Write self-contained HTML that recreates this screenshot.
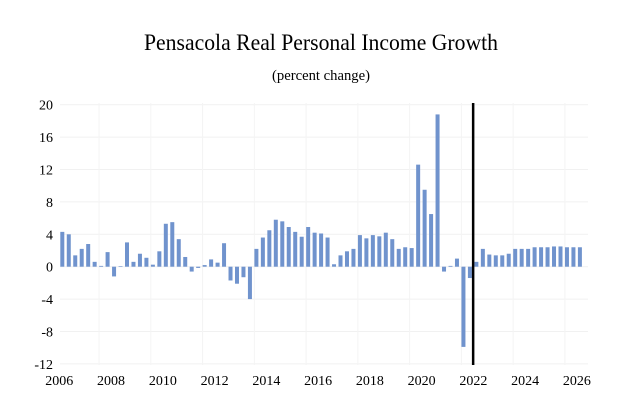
<!DOCTYPE html>
<html><head><meta charset="utf-8"><style>
body{margin:0;background:#fff;}
svg{display:block;font-family:"Liberation Serif",serif;}
</style></head><body>
<svg id="chart" width="627" height="415" viewBox="0 0 627 415">
<text x="321" y="50" font-size="23" text-anchor="middle" textLength="354" lengthAdjust="spacingAndGlyphs">Pensacola Real Personal Income Growth</text>
<text x="321" y="80" font-size="15" text-anchor="middle" textLength="98" lengthAdjust="spacingAndGlyphs">(percent change)</text>
<g id="grid"></g><g id="bars"></g><g id="axes"></g>
</svg>
<script>
const values=[4.3,4.0,1.4,2.2,2.8,0.6,0.1,1.8,-1.2,0.05,3.0,0.6,1.6,1.1,0.25,1.9,5.3,5.5,3.4,1.2,-0.6,-0.15,0.2,0.9,0.5,2.9,-1.7,-2.1,-1.3,-4.0,2.2,3.6,4.5,5.8,5.6,4.9,4.3,3.7,4.9,4.2,4.1,3.6,0.3,1.4,1.9,2.2,3.9,3.5,3.9,3.75,4.2,3.4,2.2,2.4,2.3,12.6,9.5,6.5,18.8,-0.6,0.1,1.0,-9.9,-1.4,0.6,2.2,1.5,1.4,1.4,1.6,2.2,2.2,2.2,2.4,2.4,2.4,2.5,2.5,2.4,2.4,2.4];
const startYear=2006;
const yTicks=[20,16,12,8,4,0,-4,-8,-12];
const xTicks=[2006,2008,2010,2012,2014,2016,2018,2020,2022,2024,2026];
const forecastStart=2021.875;
const NS="http://www.w3.org/2000/svg";
const y=v=>266.7-v*8.1;
const x=t=>62.3+(t-startYear)*25.88;
const grid=document.getElementById('grid'),bars=document.getElementById('bars'),axes=document.getElementById('axes');
function mk(tag,attrs,parent){const e=document.createElementNS(NS,tag);for(const k in attrs)e.setAttribute(k,attrs[k]);parent.appendChild(e);return e;}
yTicks.forEach(v=>{
  const l=mk('line',{x1:60,x2:588,y1:y(v),y2:y(v),stroke:'#f1f1f1','stroke-width':1},grid);
  
  
  const t=mk('text',{x:53,y:y(v)+5,'font-size':14,'text-anchor':'end'},axes);
  t.textContent=v;
  
  
});
xTicks.slice(1).forEach(yr=>{
  const gx=x(yr)-15;
  const l=mk('line',{x1:gx,x2:gx,y1:103,y2:365,stroke:'#f4f4f4','stroke-width':1},grid);
  
  
});
values.forEach((v,i)=>{
  const cx=x(startYear+i/4);
  const r=mk('rect',{x:cx-2,width:4,y:Math.min(y(v),y(0)),height:Math.max(Math.abs(y(v)-y(0)),0.6),fill:'#7093cd'},bars);
  
  
});
xTicks.forEach(yr=>{
  const t=mk('text',{x:x(yr)-3,y:385,'font-size':14,'text-anchor':'middle'},axes);
  t.textContent=yr;
  
  
});
const fl=mk('line',{x1:x(forecastStart),x2:x(forecastStart),y1:103,y2:365,stroke:'#000','stroke-width':2.5},axes);


</script>
</body></html>
